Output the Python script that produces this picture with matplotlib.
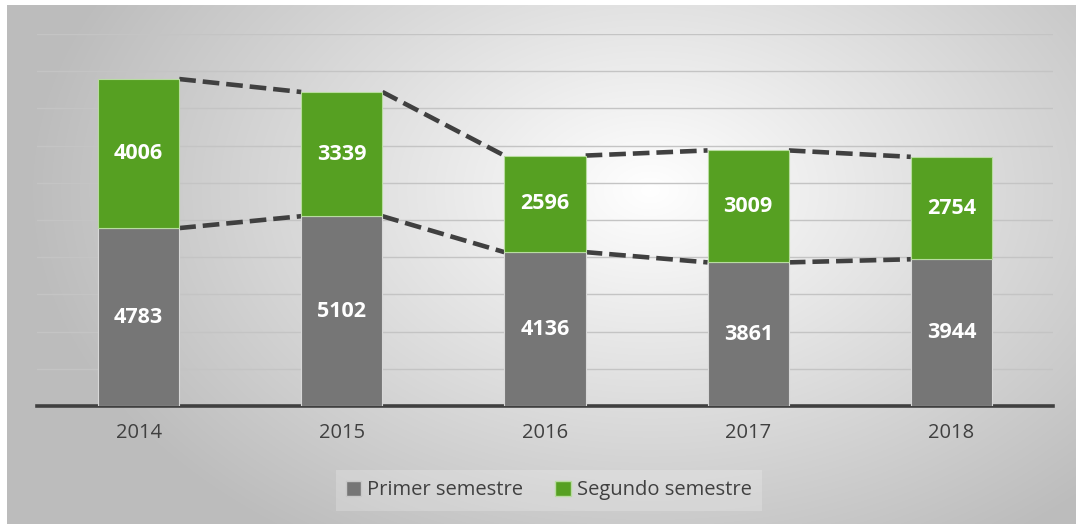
import numpy as np
import matplotlib.pyplot as plt
from matplotlib.patches import Patch

plt.rcParams['font.family'] = ['Open Sans', 'DejaVu Sans']
plt.rcParams['lines.scale_dashes'] = False

years = ['2014', '2015', '2016', '2017', '2018']
primer = [4783, 5102, 4136, 3861, 3944]
segundo = [4006, 3339, 2596, 3009, 2754]

gray = '#767676'
green = '#56A022'
dark = '#404040'

W, H = 1076, 524
fig = plt.figure(figsize=(W / 100, H / 100), dpi=100)

# background: radial grey gradient, white border top/left
bg = fig.add_axes([0, 0, 1, 1], zorder=-10)
yy, xx = np.mgrid[0:H, 0:W]
d = np.sqrt(((xx - 650) / 620.0) ** 2 + ((yy - 190) / 420.0) ** 2)
val = np.clip(1.0 - 0.26 * d, 0.74, 1.0)
img = np.dstack([val, val, val])
img[:5, :, :] = 1.0
img[:, :7, :] = 1.0
bg.imshow(img, aspect='auto', extent=[0, 1, 0, 1], origin='upper')
bg.axis('off')

ax = fig.add_axes([37 / W, 1 - 406 / H, (1053 - 37) / W, (406 - 34) / H])
ax.patch.set_alpha(0)

x = np.arange(len(years))
bw = 0.4
primer = np.array(primer)
segundo = np.array(segundo)
tot = primer + segundo

ax.bar(x, primer, bw, color=gray, edgecolor='#d8d8d8', linewidth=0.8, zorder=3)
ax.bar(x, segundo, bw, bottom=primer, color=green, edgecolor='#b8dca0', linewidth=0.8, zorder=3)

# series lines between bars
for top in (primer, tot):
    for i in range(len(years) - 1):
        ax.plot([x[i] + bw / 2, x[i + 1] - bw / 2], [top[i], top[i + 1]],
                color=dark, lw=3.3, dashes=(12, 5), solid_capstyle='butt',
                dash_capstyle='butt', zorder=2)

for i in range(len(years)):
    ax.text(x[i], primer[i] / 2, str(primer[i]), ha='center', va='center',
            color='white', fontsize=15.5, fontweight='bold', zorder=4)
    ax.text(x[i], primer[i] + segundo[i] / 2, str(segundo[i]), ha='center',
            va='center', color='white', fontsize=15.5, fontweight='bold', zorder=4)

ax.set_xlim(-0.5, len(years) - 0.5)
ax.set_ylim(0, 10000)
ax.set_yticks(np.arange(1000, 10001, 1000))
ax.yaxis.grid(True, color='#c4c4c4', lw=1.0, zorder=0)
ax.set_axisbelow(True)
ax.tick_params(axis='y', left=False, labelleft=False)
ax.set_xticks(x)
ax.set_xticklabels(years, fontsize=14.5, color='#404040')
ax.tick_params(axis='x', length=0, pad=12)
for s in ['top', 'right', 'left']:
    ax.spines[s].set_visible(False)
ax.spines['bottom'].set_color(dark)
ax.spines['bottom'].set_linewidth(2.6)

handles = [Patch(facecolor=gray, edgecolor='#c8c8c8', label='Primer semestre'),
           Patch(facecolor=green, edgecolor='#b8dca0', label='Segundo semestre')]
leg = fig.legend(handles=handles, loc='center', bbox_to_anchor=(0.51, 0.064),
                 ncol=2, frameon=True, fontsize=14.5, handlelength=0.75,
                 handleheight=0.75, handletextpad=0.3, columnspacing=1.6,
                 fancybox=False, borderpad=0.5)
leg.get_frame().set_facecolor('white')
leg.get_frame().set_alpha(0.2)
leg.get_frame().set_edgecolor('none')
for t in leg.get_texts():
    t.set_color('#404040')

fig.savefig('out.png', dpi=100)
